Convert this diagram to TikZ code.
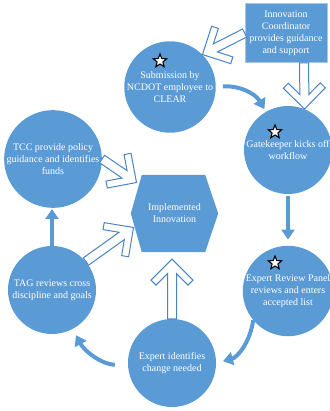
\documentclass[tikz,border=0pt]{standalone}
\usepackage{fontspec}
\setmainfont{Liberation Serif}
\usepackage{tikz}
\usetikzlibrary{shapes.geometric, arrows.meta, calc, backgrounds}
\definecolor{stepblue}{HTML}{5B9BD5}
\definecolor{edgeblue}{HTML}{4A85C3}
\definecolor{boxline}{HTML}{A9C8E8}
\tikzstyle{stage} = [circle, fill=stepblue, text=white, minimum size=88pt, inner sep=0pt, align=center, font=\fontsize{10}{12}\selectfont]
\tikzstyle{infobox} = [rectangle, fill=stepblue, draw=boxline, line width=0.8pt, text=white, minimum width=82pt, minimum height=59pt, inner sep=1pt, align=center, font=\fontsize{10}{12}\selectfont]
\tikzstyle{hexbox} = [rectangle, text=white, minimum width=87pt, minimum height=77pt, align=center, font=\fontsize{10}{12}\selectfont]
\tikzstyle{starmark} = [star, star points=5, star point ratio=2.3, draw=black, fill=white, line width=1.1pt, minimum size=14pt, inner sep=0pt]
\tikzstyle{flow} = [draw=stepblue, line width=4pt, -{Triangle[width=13pt,length=10pt]}]
\tikzstyle{hollow} = [draw=edgeblue, fill=white, line width=1pt, line join=miter]

\tikzset{pics/openarrow/.style={code={
  \draw[hollow] (-#1,-4.5pt) -- (-14.5pt,-4.5pt) -- (-26pt,-16pt) -- (-21pt,-21pt) -- (0pt,0pt)
    -- (-21pt,21pt) -- (-26pt,16pt) -- (-14.5pt,4.5pt) -- (-#1,4.5pt) -- cycle;
}}}
\newcommand{\openlink}[2]{%
  \path let \p1=(#1), \p2=(#2), \n1={atan2(\y2-\y1,\x2-\x1)}, \n2={veclen(\x2-\x1,\y2-\y1)} in
    pic[rotate=\n1] at (\p2) {openarrow=\n2};
}

\begin{document}
\begin{tikzpicture}[x=1pt, y=-1pt]
    \useasboundingbox (0,0) rectangle (329,411);

    % stages of the cycle
    \node [stage] (sub) at (170,87) {Submission by\\NCDOT employee to\\CLEAR};
    \node [stage] (gate) at (288,150) {Gatekeeper kicks off\\workflow};
    \node [stage] (erp) at (288,291) {Expert Review Panel\\reviews and enters\\accepted list};
    \node [stage] (expert) at (172,363) {Expert identifies\\change needed};
    \node [stage] (tag) at (52,290) {TAG reviews cross\\discipline and goals};
    \node [stage] (tcc) at (53,159) {TCC provide policy\\guidance and identifies\\funds};
    \node [infobox] (coord) at (286,33) {Innovation\\Coordinator\\provides guidance\\and support};
    \node [hexbox] (impl) at (174.5,213.5) {Implemented\\Innovation};
    \begin{scope}[on background layer]
        \fill [stepblue] (impl.west) -- ([xshift=11pt]impl.north west) -- ([xshift=-13pt]impl.north east)
            -- (impl.east) -- ([xshift=-13pt]impl.south east) -- ([xshift=11pt]impl.south west) -- cycle;
    \end{scope}

    % stars
    \node [starmark] (star1) at ($(sub)+(-10,-26)$) {};
    \node [starmark] (star2) at ($(gate)+(-13,-18)$) {};
    \node [starmark] (star3) at ($(erp)+(-13,-28)$) {};

    % cycle arrows
    \draw [flow, shorten <=7pt, shorten >=3pt] (sub.0) to[out=5, in=120] (gate.120);
    \draw [flow, shorten <=2pt, shorten >=6pt] (gate) -- (erp);
    \draw [flow, shorten >=7pt] (erp.220) to[out=262, in=15] (expert.0);
    \draw [flow, shorten <=13pt, shorten >=7pt] (expert.183) to[out=178, in=-62] (tag.-62);
    \draw [flow, shorten >=1pt] (tag.north) -- (tag.north |- tcc.south);

    % open arrows
    \openlink{coord.west}{sub.45}
    \openlink{[xshift=18pt]coord.south}{gate.68}
    \openlink{tcc.east}{$(impl.center)+(-38,-31)$}
    \openlink{tag.40}{$(impl.center)+(-41,14)$}
    \openlink{expert.north}{$(expert.north |- impl.south)+(0,7)$}
\end{tikzpicture}
\end{document}
